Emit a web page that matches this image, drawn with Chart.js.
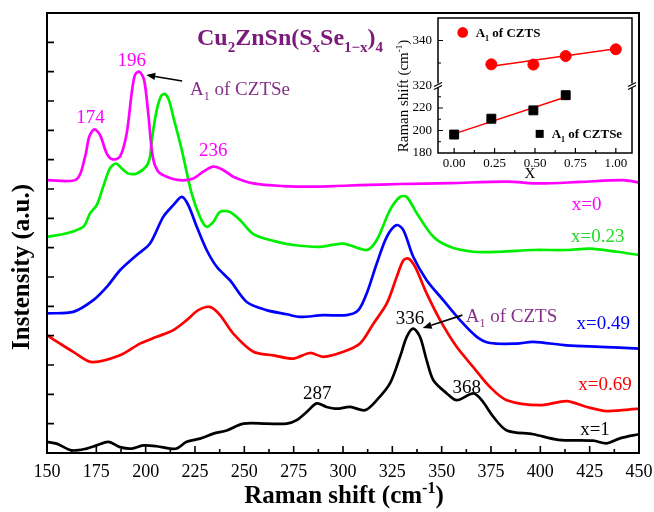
<!DOCTYPE html>
<html><head><meta charset="utf-8">
<script src="https://cdn.jsdelivr.net/npm/chart.js@4"></script>
<style>
html,body{margin:0;padding:0;background:#fff;}
#wrap{position:relative;width:654px;height:512px;overflow:hidden;}
#main{position:absolute;left:0;top:0;}
#inset{position:absolute;left:360px;top:0;}
</style></head>
<body><div id="wrap"><canvas id="main" width="654" height="512"></canvas><canvas id="inset" width="294" height="200"></canvas></div>
<script>
// ---------- main spectra data (Raman shift in cm-1, intensity in a.u.) ----------
const shift0 = [150,165.0,169.3,171.4,174.0,176.9,180.3,183.3,187.0,190.4,192.9,194.6,196.8,199.2,201.3,203.6,206.4,210.7,217.4,224.1,229.2,234.3,239.3,244.4,254.6,269.8,286.7,308.6,328.9,354.2,383.0,399.8,420.1,441.9,450];
const int0   = [9.30,9.33,10.10,10.78,11.03,10.84,10.21,10.01,10.10,10.90,12.26,12.89,13.00,12.72,11.58,10.10,9.59,9.42,9.30,9.36,9.59,9.76,9.65,9.42,9.19,9.10,9.08,9.13,9.17,9.20,9.25,9.19,9.24,9.30,9.22];

const shift023 = [150,160.0,168.4,171.8,175.2,178.5,181.9,185.0,187.9,191.2,195.5,200.2,202.2,203.1,205.6,207.8,209.8,211.8,214.0,218.3,223.3,227.5,230.9,234.3,237.7,242.7,247.8,254.6,264.7,274.8,288.4,300.2,312.0,317.1,323.8,328.9,332.3,337.4,345.8,354.2,366.0,379.6,396.4,413.4,425.2,438.7,450];
const int023   = [7.37,7.49,7.71,8.17,8.45,9.08,9.70,9.87,9.70,9.53,9.53,9.76,10.10,10.67,11.69,12.17,12.24,12.03,11.46,10.33,8.85,8.05,7.71,7.88,8.22,8.22,7.94,7.46,7.23,7.09,7.03,7.14,6.92,7.26,8.28,8.73,8.73,8.17,7.37,7.03,6.86,6.86,6.92,6.92,6.97,6.86,6.75];

const shift049 = [150,163.3,173.5,180.3,187.0,195.5,202.2,208.9,214.0,218.3,221.6,225.9,230.9,236.0,242.7,251.2,261.3,271.5,278.2,290.0,301.9,307.8,312.0,317.1,322.2,327.2,330.6,335.6,342.4,350.8,359.3,367.8,374.5,388.0,396.4,413.4,430.2,450];
const int049   = [4.76,4.81,5.21,5.66,6.23,6.75,7.14,8.05,8.45,8.73,8.45,7.71,6.92,6.35,5.89,5.15,4.87,4.73,4.64,4.70,4.70,4.87,5.44,6.46,7.37,7.77,7.60,6.69,5.89,5.21,4.53,3.96,3.75,3.73,3.79,3.67,3.62,3.56];

const shift069 = [150,156.6,163.3,172.7,187.0,197.1,205.6,214.0,220.8,226.7,232.6,237.7,244.4,254.6,264.7,274.8,283.3,290.0,300.2,308.6,315.4,322.2,327.2,330.6,333.1,336.5,342.4,349.2,357.6,366.0,374.5,383.0,399.8,413.4,423.5,433.6,450];
const int069   = [4.02,3.73,3.45,3.10,3.33,3.73,3.96,4.19,4.53,4.87,4.98,4.70,4.07,3.45,3.33,3.22,3.41,3.28,3.45,3.73,4.41,5.10,6.00,6.57,6.63,6.35,5.44,4.53,3.62,2.93,2.25,1.80,1.63,1.77,1.57,1.43,1.51];

const shift1 = [150,154.9,162.5,170.1,175.2,181.1,187.0,192.9,198.8,205.6,212.3,215.7,220.8,227.5,234.3,241.1,249.5,261.3,271.5,276.5,281.6,286.7,291.7,296.8,303.6,311.2,317.1,323.8,328.9,332.3,335.6,339.0,342.4,345.8,352.6,357.6,366.0,370.3,376.2,383.0,396.4,409.1,426.8,433.6,440.4,450];
const int1   = [0.38,0.32,0.09,0.15,0.26,0.38,0.20,0.15,0.26,0.23,0.15,0.15,0.38,0.49,0.66,0.77,1.00,1.00,1.00,1.12,1.40,1.69,1.57,1.51,1.57,1.46,1.80,2.37,3.28,3.96,4.24,3.96,3.16,2.48,2.03,1.80,2.03,1.80,1.23,0.77,0.64,0.45,0.42,0.33,0.50,0.64];

const seriesNames = ['x=0','x=0.23','x=0.49','x=0.69','x=1'];
const xTicks = [150,175,200,225,250,275,300,325,350,375,400,425,450];

// ---------- inset data ----------
const czts_x = [0.23,0.49,0.69,1.00];
const czts_y = [329.4,329.3,333.1,336.1];
const cztse_x = [0.00,0.23,0.49,0.69];
const cztse_y = [196.4,210.5,217.9,231.4];
const cztsFit_x = [0.23,1.00];
const cztsFit_y = [328.6,336.3];
const cztseFit_x = [0.00,0.69];
const cztseFit_y = [197.0,229.8];
const insetXTicks = [0,0.25,0.5,0.75,1];
const insetLowTicks = [180,200,220];
const insetHighTicks = [320,340];

// ---------- helpers ----------
const FONT = "'Liberation Serif','Times New Roman',serif";
const MAG = '#ff00ff', GRN = '#00ee00', BLU = '#0000ff', RED = '#ff0000', BLK = '#000000';
const PURPLE = '#7a1a7a', PURPLE2 = '#86308a';
const pts = (xs, ys) => xs.map((v, i) => ({x: v, y: ys[i]}));

function rich(ctx, x, y, segs, o) {
  const w = o.bold ? 'bold ' : '';
  const parts = segs.map(([t, k]) => {
    const sz = k === 'n' ? o.size : Math.round(o.size * 0.62);
    const dy = k === 'sub' ? o.size * 0.3 : (k === 'sup' ? -o.size * 0.4 : 0);
    ctx.font = w + sz + 'px ' + FONT;
    return {t, sz, dy, wd: ctx.measureText(t).width};
  });
  const total = parts.reduce((a, p) => a + p.wd, 0);
  let cx = o.align === 'center' ? x - total / 2 : (o.align === 'right' ? x - total : x);
  ctx.fillStyle = o.color || '#000';
  ctx.textAlign = 'left'; ctx.textBaseline = 'alphabetic';
  for (const p of parts) { ctx.font = w + p.sz + 'px ' + FONT; ctx.fillText(p.t, cx, y + p.dy); cx += p.wd; }
}
function arrow(ctx, x1, y1, x2, y2, lw) {
  const ang = Math.atan2(y2 - y1, x2 - x1), L = 9, H = 3.6;
  const bx = x2 - L * Math.cos(ang), by = y2 - L * Math.sin(ang);
  ctx.strokeStyle = '#000'; ctx.fillStyle = '#000'; ctx.lineWidth = lw;
  ctx.beginPath(); ctx.moveTo(x1, y1); ctx.lineTo(bx, by); ctx.stroke();
  ctx.beginPath(); ctx.moveTo(x2, y2);
  ctx.lineTo(bx + H * Math.sin(ang), by - H * Math.cos(ang));
  ctx.lineTo(bx - H * Math.sin(ang), by + H * Math.cos(ang));
  ctx.closePath(); ctx.fill();
}

// annotation placement (in data coordinates of the main chart)
const notes = [
  {segs: [['174','n']], x: 172.1, y: 11.46, c: MAG, align: 'center'},
  {segs: [['196','n']], x: 192.9, y: 13.42, c: MAG, align: 'center'},
  {segs: [['236','n']], x: 234.3, y: 10.33, c: MAG, align: 'center'},
  {segs: [['287','n']], x: 287.0, y: 2.05, c: BLK, align: 'center'},
  {segs: [['336','n']], x: 334.0, y: 4.61, c: BLK, align: 'center'},
  {segs: [['368','n']], x: 362.7, y: 2.28, c: BLK, align: 'center'},
  {segs: [['A','n'],['1','sub'],[' of CZTSe','n']], x: 222.5, y: 12.44, c: PURPLE2, align: 'left'},
  {segs: [['A','n'],['1','sub'],[' of CZTS','n']], x: 362.2, y: 4.70, c: PURPLE2, align: 'left'},
  {segs: [[seriesNames[0],'n']], x: 423.5, y: 8.51, c: MAG, align: 'center'},
  {segs: [[seriesNames[1],'n']], x: 429.1, y: 7.43, c: '#22dd22', align: 'center'},
  {segs: [[seriesNames[2],'n']], x: 431.9, y: 4.44, c: BLU, align: 'center'},
  {segs: [[seriesNames[3],'n']], x: 432.8, y: 2.37, c: RED, align: 'center'},
  {segs: [[seriesNames[4],'n']], x: 427.7, y: 0.83, c: BLK, align: 'center'}
];
const arrows = [
  {x1: 218.5, y1: 12.68, x2: 200.3, y2: 12.89},
  {x1: 360.5, y1: 4.70, x2: 340.4, y2: 4.26}
];

const mainDeco = {
  id: 'mainDeco',
  afterDatasetsDraw(chart) {
    const {ctx, chartArea: a, scales: {x, y}} = chart;
    ctx.save();
    ctx.strokeStyle = '#000'; ctx.lineWidth = 2;
    ctx.strokeRect(a.left, a.top, a.right - a.left, a.bottom - a.top);
    ctx.lineWidth = 1.6;
    ctx.beginPath();
    for (let v = 150; v <= 450; v += 12.5) {
      const px = x.getPixelForValue(v);
      const len = ((v - 150) % 25 === 0) ? 7 : 4;
      ctx.moveTo(px, a.bottom); ctx.lineTo(px, a.bottom - len);
    }
    for (let v = 1; v < 15; v++) {
      const py = y.getPixelForValue(v);
      ctx.moveTo(a.left, py); ctx.lineTo(a.left + 7, py);
    }
    ctx.stroke();
    for (const n of notes) {
      rich(ctx, x.getPixelForValue(n.x), y.getPixelForValue(n.y) + 6.5, n.segs, {size: 19, color: n.c, align: n.align});
    }
    for (const r of arrows) {
      arrow(ctx, x.getPixelForValue(r.x1), y.getPixelForValue(r.y1), x.getPixelForValue(r.x2), y.getPixelForValue(r.y2), 1.6);
    }
    // title
    rich(ctx, a.left + 150, a.top + 32,
      [['Cu','n'],['2','sub'],['ZnSn(S','n'],['x','sub'],['Se','n'],['1\u2212x','sub'],[')','n'],['4','sub']],
      {size: 24, bold: true, color: PURPLE, align: 'left'});
    // axis titles
    rich(ctx, 344, 503, [['Raman shift (cm','n'],['-1','sup'],[')','n']], {size: 25, bold: true, align: 'center'});
    ctx.save();
    ctx.translate(29, 267); ctx.rotate(-Math.PI / 2);
    rich(ctx, 0, 0, [['Instensity (a.u.)','n']], {size: 25, bold: true, align: 'center'});
    ctx.restore();
    ctx.restore();
  }
};

const lineDs = (label, xs, ys, color) => ({
  label, data: pts(xs, ys), borderColor: color, borderWidth: 2.7, pointRadius: 0,
  tension: 0.3, borderJoinStyle: 'round', fill: false
});

new Chart(document.getElementById('main'), {
  type: 'line',
  data: {datasets: [
    lineDs(seriesNames[4], shift1, int1, BLK),
    lineDs(seriesNames[3], shift069, int069, RED),
    lineDs(seriesNames[2], shift049, int049, BLU),
    lineDs(seriesNames[0], shift0, int0, MAG),
    lineDs(seriesNames[1], shift023, int023, GRN)
  ]},
  options: {
    responsive: false, animation: false, devicePixelRatio: 1,
    layout: {padding: {left: 0, top: 13, right: 15, bottom: 0}},
    plugins: {legend: {display: false}, tooltip: {enabled: false}},
    scales: {
      x: {
        type: 'linear', min: 150, max: 450,
        grid: {display: false, drawTicks: false}, border: {display: false},
        afterBuildTicks(s) { s.ticks = xTicks.map(v => ({value: v})); },
        ticks: {autoSkip: false, maxRotation: 0, padding: 8, color: '#000',
          font: {family: FONT, size: 18}, callback: v => String(v)},
        afterFit(s) { s.height = 59; s.paddingLeft = 0; s.paddingRight = 0; }
      },
      y: {
        type: 'linear', min: 0, max: 15,
        grid: {display: false, drawTicks: false}, border: {display: false},
        ticks: {display: false},
        afterFit(s) { s.width = 47; s.paddingTop = 0; s.paddingBottom = 0; }
      }
    }
  },
  plugins: [mainDeco]
});

// ---------- inset ----------
const insetDeco = {
  id: 'insetDeco',
  afterDatasetsDraw(chart) {
    const {ctx, chartArea: a, scales} = chart;
    const xs = scales.x, yb = scales.yBot, yt = scales.yTop;
    ctx.save();
    ctx.strokeStyle = '#000'; ctx.lineWidth = 1.5;
    ctx.strokeRect(a.left, a.top, a.right - a.left, a.bottom - a.top);
    ctx.lineWidth = 1.2;
    ctx.beginPath();
    for (let k = 0; k <= 8; k++) {
      const px = xs.getPixelForValue(k * 0.125);
      const len = k % 2 === 0 ? 5 : 3;
      ctx.moveTo(px, a.bottom); ctx.lineTo(px, a.bottom - len);
    }
    for (let v = 190; v < 240; v += 10) {
      const py = yb.getPixelForValue(v); const len = v % 20 === 0 ? 5 : 3;
      ctx.moveTo(a.left, py); ctx.lineTo(a.left + len, py);
    }
    for (let v = 330; v < 350; v += 10) {
      const py = yt.getPixelForValue(v); const len = v % 20 === 0 ? 5 : 3;
      ctx.moveTo(a.left, py); ctx.lineTo(a.left + len, py);
    }
    ctx.stroke();
    // axis break marks
    const by = Math.min(yb.top, yt.bottom);
    for (const bx of [a.left, a.right]) {
      ctx.fillStyle = '#fff'; ctx.fillRect(bx - 2, by - 2, 4, 4);
      ctx.beginPath();
      ctx.moveTo(bx - 4, by + 1); ctx.lineTo(bx + 4, by - 3);
      ctx.moveTo(bx - 4, by + 4); ctx.lineTo(bx + 4, by);
      ctx.stroke();
    }
    // legend
    const lx1 = xs.getPixelForValue(0.053), ly1 = yt.getPixelForValue(343.6);
    ctx.fillStyle = RED; ctx.beginPath(); ctx.arc(lx1, ly1, 5.3, 0, Math.PI * 2); ctx.fill();
    rich(ctx, lx1 + 13, ly1 + 4.5, [['A','n'],['1','sub'],[' of CZTS','n']], {size: 13, bold: true, align: 'left'});
    const lx2 = xs.getPixelForValue(0.529), ly2 = yb.getPixelForValue(197);
    ctx.fillStyle = BLK; ctx.fillRect(lx2 - 4, ly2 - 4, 8, 8);
    rich(ctx, lx2 + 12, ly2 + 4.5, [['A','n'],['1','sub'],[' of CZTSe','n']], {size: 13, bold: true, align: 'left'});
    // titles
    rich(ctx, (a.left + a.right) / 2 - 5, a.bottom + 25, [['X','n']], {size: 15, align: 'center'});
    ctx.save();
    ctx.translate(48, 96); ctx.rotate(-Math.PI / 2);
    rich(ctx, 0, 0, [['Raman shift (cm','n'],['-1','sup'],[')','n']], {size: 15, align: 'center'});
    ctx.restore();
    ctx.restore();
  }
};

const tickFont = {family: FONT, size: 13};
new Chart(document.getElementById('inset'), {
  type: 'scatter',
  data: {datasets: [
    {label: 'A1 of CZTS', data: pts(czts_x, czts_y), yAxisID: 'yTop', backgroundColor: RED, borderColor: RED,
      pointStyle: 'circle', pointRadius: 5.5, showLine: false},
    {label: 'A1 of CZTSe', data: pts(cztse_x, cztse_y), yAxisID: 'yBot', backgroundColor: BLK, borderColor: BLK,
      pointStyle: 'rect', pointRadius: 6.3, showLine: false},
    {type: 'line', label: 'fit S', data: pts(cztsFit_x, cztsFit_y), yAxisID: 'yTop', borderColor: RED, borderWidth: 1.5, pointRadius: 0},
    {type: 'line', label: 'fit Se', data: pts(cztseFit_x, cztseFit_y), yAxisID: 'yBot', borderColor: RED, borderWidth: 1.5, pointRadius: 0}
  ]},
  options: {
    responsive: false, animation: false, devicePixelRatio: 1,
    layout: {padding: {left: 0, top: 18, right: 22, bottom: 0}},
    plugins: {legend: {display: false}, tooltip: {enabled: false}},
    scales: {
      x: {
        type: 'linear', min: -0.1, max: 1.1,
        grid: {display: false, drawTicks: false}, border: {display: false},
        afterBuildTicks(s) { s.ticks = insetXTicks.map(v => ({value: v})); },
        ticks: {autoSkip: false, maxRotation: 0, padding: 3, color: '#000', font: tickFont,
          callback: v => Number(v).toFixed(2)},
        afterFit(s) { s.height = 47; s.paddingLeft = 0; s.paddingRight = 0; }
      },
      yBot: {
        type: 'linear', position: 'left', stack: 'ins', stackWeight: 1, min: 180, max: 240,
        grid: {display: false, drawTicks: false}, border: {display: false},
        afterBuildTicks(s) { s.ticks = insetLowTicks.map(v => ({value: v})); },
        ticks: {autoSkip: false, padding: 6, color: '#000', font: tickFont, callback: v => String(v)},
        afterFit(s) { s.width = 78; s.paddingTop = 0; s.paddingBottom = 0; }
      },
      yTop: {
        type: 'linear', position: 'left', stack: 'ins', stackWeight: 1, min: 320, max: 350,
        grid: {display: false, drawTicks: false}, border: {display: false},
        afterBuildTicks(s) { s.ticks = insetHighTicks.map(v => ({value: v})); },
        ticks: {autoSkip: false, padding: 6, color: '#000', font: tickFont, callback: v => String(v)},
        afterFit(s) { s.width = 78; s.paddingTop = 0; s.paddingBottom = 0; }
      }
    }
  },
  plugins: [insetDeco]
});
</script>
</body></html>
